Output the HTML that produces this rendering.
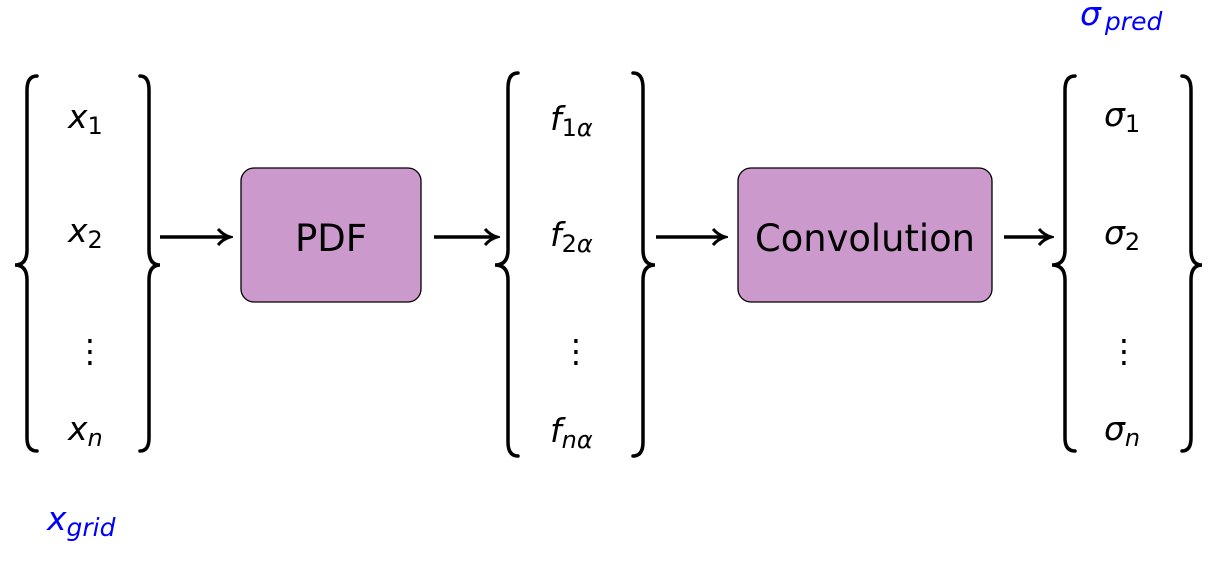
<!DOCTYPE html>
<html><head><meta charset="utf-8"><style>
html,body{margin:0;padding:0;background:#fff;}
svg{display:block;}
text{font-family:"DejaVu Sans","Liberation Sans",sans-serif;}
.it{font-style:italic;}
</style></head><body>
<svg width="1217" height="569" viewBox="0 0 1217 569">
<defs>
<marker id="ah" markerWidth="16" markerHeight="20" refX="12" refY="10" orient="auto" markerUnits="userSpaceOnUse">
<path d="M1,2 Q6,8 13,10 Q6,12 1,18" fill="none" stroke="#000" stroke-width="3"/>
</marker>
</defs>
<g fill="none" stroke="#000" stroke-width="3.5" stroke-linecap="round">
<path d="M37 76 Q27 76 27 90 L27 250 Q27 265 15 265 Q27 265 27 280 L27 438 Q27 451 37 451"/>
<path d="M140 76 Q149 76 149 90 L149 250 Q149 265 160 265 Q149 265 149 280 L149 438 Q149 451 140 451"/>
<path d="M518 73 Q508 73 508 88 L508 250 Q508 265 495 265 Q508 265 508 280 L508 442 Q508 456 518 456"/>
<path d="M633 73 Q643 73 643 88 L643 250 Q643 265 655 265 Q643 265 643 280 L643 442 Q643 456 633 456"/>
<path d="M1075 76 Q1065 76 1065 90 L1065 250 Q1065 265 1052 265 Q1065 265 1065 280 L1065 438 Q1065 451 1075 451"/>
<path d="M1182 76 Q1191 76 1191 90 L1191 250 Q1191 265 1202 265 Q1191 265 1191 280 L1191 438 Q1191 451 1182 451"/>
</g>
<g stroke="#000" stroke-width="3.5" marker-end="url(#ah)">
<line x1="160" y1="237" x2="229" y2="237"/>
<line x1="434" y1="237" x2="496" y2="237"/>
<line x1="656" y1="237" x2="724" y2="237"/>
<line x1="1004" y1="237" x2="1050" y2="237"/>
</g>
<rect x="241" y="168" width="180" height="134" rx="13" fill="#cc99cc" stroke="#000" stroke-width="1.3"/>
<text x="331" y="251" font-size="37" text-anchor="middle">PDF</text>
<rect x="738" y="168" width="254" height="134" rx="13" fill="#cc99cc" stroke="#000" stroke-width="1.3"/>
<text x="865" y="251" font-size="37" text-anchor="middle" textLength="220" lengthAdjust="spacingAndGlyphs">Convolution</text>
<g font-size="33">
<text x="68" y="128"><tspan class="it">x</tspan><tspan font-size="24" dy="6">1</tspan></text>
<text x="68" y="242"><tspan class="it">x</tspan><tspan font-size="24" dy="6">2</tspan></text>
<text x="74" y="362" font-size="32">⋮</text>
<text x="68" y="440"><tspan class="it">x</tspan><tspan class="it" font-size="24" dy="6">n</tspan></text>
<text x="550" y="130"><tspan class="it">f</tspan><tspan font-size="24" dy="6">1</tspan><tspan class="it" font-size="24">α</tspan></text>
<text x="550" y="246"><tspan class="it">f</tspan><tspan font-size="24" dy="6">2</tspan><tspan class="it" font-size="24">α</tspan></text>
<text x="560" y="362" font-size="32">⋮</text>
<text x="550" y="442"><tspan class="it">f</tspan><tspan class="it" font-size="24" dy="6">nα</tspan></text>
<text x="1104" y="126"><tspan class="it">σ</tspan><tspan font-size="24" dy="6">1</tspan></text>
<text x="1104" y="244"><tspan class="it">σ</tspan><tspan font-size="24" dy="6">2</tspan></text>
<text x="1108" y="362" font-size="32">⋮</text>
<text x="1104" y="440"><tspan class="it">σ</tspan><tspan class="it" font-size="24" dy="6">n</tspan></text>
</g>
<text x="47" y="530" font-size="33" fill="#0000ff"><tspan class="it">x</tspan><tspan class="it" font-size="25" dy="6">grid</tspan></text>
<text x="1080" y="25" font-size="33" fill="#0000ff"><tspan class="it">σ</tspan><tspan class="it" font-size="25" dx="4" dy="5">pred</tspan></text>
</svg>
</body></html>
